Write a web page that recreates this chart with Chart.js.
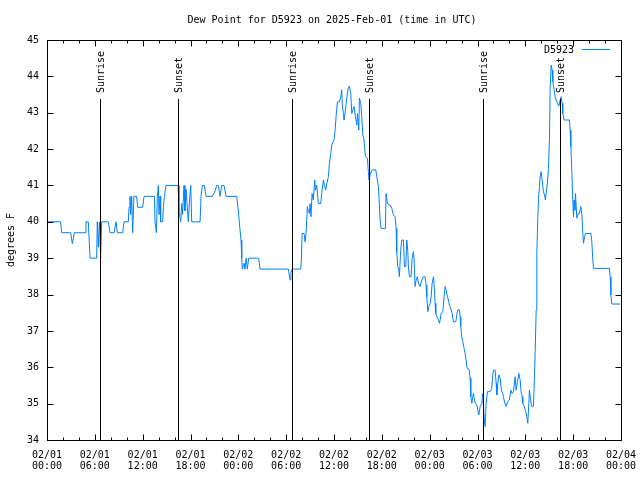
<!DOCTYPE html>
<html><head><meta charset="utf-8">
<script src="https://cdn.jsdelivr.net/npm/chart.js@4"></script>
<style>html,body{margin:0;padding:0;background:#fff}canvas{display:block}</style>
</head><body>
<canvas id="c" width="640" height="480"></canvas>
<script>
const titleText = 'Dew Point for D5923 on 2025-Feb-01 (time in UTC)';
const seriesName = 'D5923';
const yAxisLabel = 'degrees F';

const hours = [
0,1.7,1.84,2.97,3.18,3.43,4.77,4.89,5.18,5.4,6.23,6.31,6.44,6.57,6.73,6.86,7.7,7.9,8.41,8.66,8.83,9.5,9.66,10.2,
10.29,10.41,10.5,10.62,10.75,10.9,11.25,11.37,12.0,12.17,13.47,13.55,13.72,13.84,13.97,14.05,14.18,14.26,14.51,14.6,
14.72,14.93,16.45,16.55,16.77,16.9,17.0,17.19,17.3,17.44,17.6,17.73,17.85,18.03,18.15,19.2,19.32,19.49,19.74,19.95,
20.74,21.08,21.29,21.5,21.7,21.92,22.2,22.46,23.8,24.0,24.2,24.34,24.43,24.5,24.72,24.84,24.97,25.13,25.3,26.56,26.72,
30.28,30.49,30.6,30.74,31.83,31.91,32.0,32.25,32.37,32.5,32.66,32.79,32.92,33.0,33.12,33.25,33.41,33.58,33.67,33.84,
34.04,34.34,34.46,34.67,34.8,34.96,35.09,35.3,35.42,35.59,35.72,35.84,36.0,36.14,36.26,36.43,36.68,36.85,36.97,37.05,
37.18,37.26,37.43,37.6,37.77,37.93,38.1,38.23,38.35,38.52,38.69,38.86,38.94,39.11,39.19,39.36,39.48,39.61,39.77,39.94,
40.19,40.31,40.4,40.53,40.74,41.24,41.37,41.57,41.66,41.78,41.91,42.45,42.53,42.7,43.04,43.25,43.45,43.66,43.79,43.87,
44.0,44.12,44.2,44.37,44.5,44.71,44.83,45.0,45.13,45.25,45.33,45.46,45.67,45.8,45.96,46.05,46.17,46.3,46.46,46.59,46.8,
47.01,47.22,47.43,47.55,47.64,47.77,47.89,48.06,48.18,48.31,48.48,48.56,48.68,48.77,48.9,49.1,49.23,49.31,49.44,49.65,
49.81,49.94,50.06,50.23,50.35,50.48,50.56,50.69,50.82,50.98,51.28,51.4,51.53,51.74,51.82,51.9,52.03,52.16,52.32,52.45,
52.57,52.7,52.95,53.07,53.16,53.29,53.41,53.49,53.62,53.74,53.91,54.04,54.17,54.33,54.54,54.67,54.83,54.96,55.08,55.25,
55.58,55.79,55.92,56.0,56.21,56.34,56.42,56.55,56.67,56.84,57.0,57.17,57.25,57.42,57.59,57.76,58.0,58.18,58.34,58.51,
58.72,58.85,59.01,59.18,59.35,59.47,59.6,59.68,59.85,60.01,60.19,60.31,60.44,60.51,60.64,60.77,61.02,61.1,61.23,61.36,
61.44,61.57,61.65,61.77,61.86,61.98,62.11,62.27,62.4,62.52,62.61,62.78,62.9,63.03,63.11,63.24,63.36,63.45,63.61,63.74,
63.86,64.03,64.2,64.37,64.49,64.62,64.7,64.87,65.54,65.62,65.71,65.83,65.92,66.04,66.12,66.21,66.29,66.46,66.62,66.79,
66.96,67.09,67.21,67.3,67.42,67.55,68.22,68.34,68.47,68.55,70.55,70.64,70.73,70.85,71.9
];
const dewPoint = [
40.0,40.0,39.7,39.7,39.4,39.7,39.7,40.0,40.0,39.0,39.0,40.0,39.3,40.0,39.0,40.0,40.0,39.7,39.7,40.0,39.7,39.7,40.0,40.0,
40.4,40.7,40.2,40.7,39.7,40.7,40.7,40.4,40.4,40.7,40.7,40.0,39.7,40.7,41.0,40.2,40.7,40.0,40.0,40.4,
40.7,41.0,41.0,40.3,40.0,40.5,40.2,41.0,40.3,40.9,40.4,40.0,40.5,41.0,40.0,40.0,40.7,41.0,41.0,40.7,
40.7,40.85,41.0,41.0,40.7,41.0,41.0,40.7,40.7,40.3,39.8,39.5,39.0,38.7,38.86,38.7,39.0,38.7,39.0,39.0,38.7,
38.7,38.4,38.6,38.7,38.7,38.95,39.68,39.68,39.45,39.68,40.42,40.28,40.23,40.5,40.14,40.78,40.6,41.15,40.87,41.01,
40.5,40.5,40.78,41.15,41.01,40.87,41.05,41.24,41.61,41.88,42.11,42.18,42.25,42.52,42.89,43.3,43.3,43.44,43.63,43.17,
42.98,42.8,43.07,43.4,43.67,43.73,43.53,42.98,43.07,43.17,42.89,42.66,42.98,42.52,43.4,43.26,42.89,42.39,42.25,41.79,
41.75,41.38,41.15,41.29,41.42,41.43,41.24,40.97,40.6,40.05,39.82,39.82,40.78,40.5,40.46,40.37,40.19,40.14,39.82,39.18,
38.77,38.67,38.49,39.22,39.5,39.5,38.77,38.77,39.5,39.22,38.77,38.49,38.49,39.0,39.18,38.95,38.22,38.4,38.49,38.31,38.22,
38.4,38.49,38.49,38.26,37.94,37.53,37.67,37.76,37.94,38.31,38.49,38.26,37.76,37.48,37.39,37.3,37.21,37.3,37.48,37.53,
37.94,38.22,38.12,37.94,37.85,37.71,37.67,37.58,37.48,37.25,37.25,37.44,37.58,37.58,37.39,37.12,36.84,36.7,36.52,36.38,
36.2,35.97,35.94,35.7,35.19,35.01,35.19,35.28,35.1,35.01,34.96,34.82,34.69,34.92,35.01,35.28,34.6,34.37,35.01,35.33,
35.33,35.42,35.79,35.92,35.92,35.56,35.24,35.56,35.79,35.7,35.37,35.28,35.19,35.01,34.92,35.05,35.1,35.37,35.28,35.33,
35.74,35.37,35.6,35.83,35.65,35.33,35.19,35.01,34.92,34.82,34.64,34.46,35.01,35.37,35.15,34.93,34.93,35.42,36.38,37.57,
39.13,40.14,40.64,40.97,41.24,41.38,41.15,40.83,40.74,40.6,40.78,41.1,41.47,42.3,43.67,44.31,44.17,43.85,43.63,43.44,
43.35,43.26,43.18,43.35,43.44,43.26,42.98,42.8,42.8,42.52,42.07,41.42,40.78,40.14,40.6,40.32,40.78,40.1,40.23,40.23,
40.42,40.19,39.68,39.41,39.59,39.68,39.68,39.45,38.95,38.72,38.72,38.49,37.99,37.74,37.74
];

const tickHours = [0,6,12,18,24,30,36,42,48,54,60,66,72];
const tickDates = ['02/01','02/01','02/01','02/01','02/02','02/02','02/02','02/02','02/03','02/03','02/03','02/03','02/04'];
const tickTimes = ['00:00','06:00','12:00','18:00','00:00','06:00','12:00','18:00','00:00','06:00','12:00','18:00','00:00'];
const yMin = 34, yMax = 45;

const eventHours = [6.69, 16.37, 30.78, 40.44, 54.75, 64.37];
const eventNames = ['Sunrise','Sunset','Sunrise','Sunset','Sunrise','Sunset'];

const FONT = "'DejaVu Sans Mono', monospace";
const LINE_COLOR = '#0080ff';

const points = hours.map((h, i) => ({x: h, y: dewPoint[i]}));

const decor = {
  id: 'decor',
  afterDatasetsDraw(chart) {
    const ctx = chart.ctx;
    const a = chart.chartArea;
    const xs = chart.scales.x, ys = chart.scales.y;
    const L = Math.round(a.left) + 0.5, R = Math.round(a.right) + 0.5;
    const T = Math.round(a.top) + 0.5, B = Math.round(a.bottom) + 0.5;
    ctx.save();
    ctx.strokeStyle = '#000';
    ctx.lineWidth = 1;
    ctx.beginPath();
    eventHours.forEach(h => {
      const px = Math.round(xs.getPixelForValue(h)) + 0.5;
      ctx.moveTo(px, 99); ctx.lineTo(px, B);
    });
    ctx.stroke();
    ctx.strokeRect(L, T, R - L, B - T);
    ctx.beginPath();
    for (let v = yMin; v <= yMax; v++) {
      const py = Math.round(ys.getPixelForValue(v)) + 0.5;
      ctx.moveTo(L, py); ctx.lineTo(L + 6, py);
      ctx.moveTo(R, py); ctx.lineTo(R - 6, py);
    }
    for (let h = 0; h <= 72; h += 2) {
      const px = Math.round(xs.getPixelForValue(h)) + 0.5;
      const len = (h % 6 === 0) ? 6 : 3;
      ctx.moveTo(px, B); ctx.lineTo(px, B - len);
      ctx.moveTo(px, T); ctx.lineTo(px, T + len);
    }
    ctx.stroke();
    ctx.fillStyle = '#000';
    ctx.font = '10px ' + FONT;
    ctx.textAlign = 'left';
    ctx.textBaseline = 'middle';
    eventHours.forEach((h, i) => {
      const px = Math.round(xs.getPixelForValue(h)) + 1;
      ctx.save();
      ctx.translate(px, 93);
      ctx.rotate(-Math.PI / 2);
      ctx.fillText(eventNames[i], 0, 0);
      ctx.restore();
    });
    ctx.textAlign = 'center';
    ctx.fillText(titleText, (a.left + a.right) / 2 - 2, 20);
    ctx.textAlign = 'right';
    ctx.fillText(seriesName, 574, 50);
    ctx.strokeStyle = LINE_COLOR;
    ctx.beginPath();
    ctx.moveTo(582, 49.5); ctx.lineTo(610, 49.5);
    ctx.stroke();
    ctx.restore();
  }
};

new Chart(document.getElementById('c'), {
  type: 'line',
  data: {
    datasets: [{
      label: seriesName,
      data: points,
      borderColor: LINE_COLOR,
      borderWidth: 1,
      pointRadius: 0,
      tension: 0,
      fill: false
    }]
  },
  options: {
    responsive: false,
    animation: false,
    devicePixelRatio: 1,
    layout: {padding: {left: 0, right: 19, top: 40, bottom: 0}},
    plugins: {legend: {display: false}, title: {display: false}, tooltip: {enabled: false}},
    scales: {
      x: {
        type: 'linear', min: 0, max: 72,
        grid: {display: false, drawTicks: false},
        border: {display: false},
        afterFit: s => { s.height = 40; s.paddingLeft = 0; s.paddingRight = 0; },
        afterBuildTicks: s => { s.ticks = tickHours.map(v => ({value: v})); },
        ticks: {
          autoSkip: false, maxRotation: 0, minRotation: 0, padding: 10,
          color: '#000',
          font: {family: FONT, size: 10, lineHeight: 1.1},
          callback: (v) => { const i = tickHours.indexOf(v); return i >= 0 ? [tickDates[i], tickTimes[i]] : ''; }
        }
      },
      y: {
        min: yMin, max: yMax,
        grid: {display: false, drawTicks: false},
        border: {display: false},
        afterFit: s => { s.width = 47; s.paddingTop = 0; s.paddingBottom = 0; },
        ticks: {stepSize: 1, padding: 8, color: '#000', font: {family: FONT, size: 10}},
        title: {display: true, text: yAxisLabel, color: '#000', font: {family: FONT, size: 10}, padding: {top: 5, bottom: 0}}
      }
    }
  },
  plugins: [decor]
});
</script>
</body></html>
